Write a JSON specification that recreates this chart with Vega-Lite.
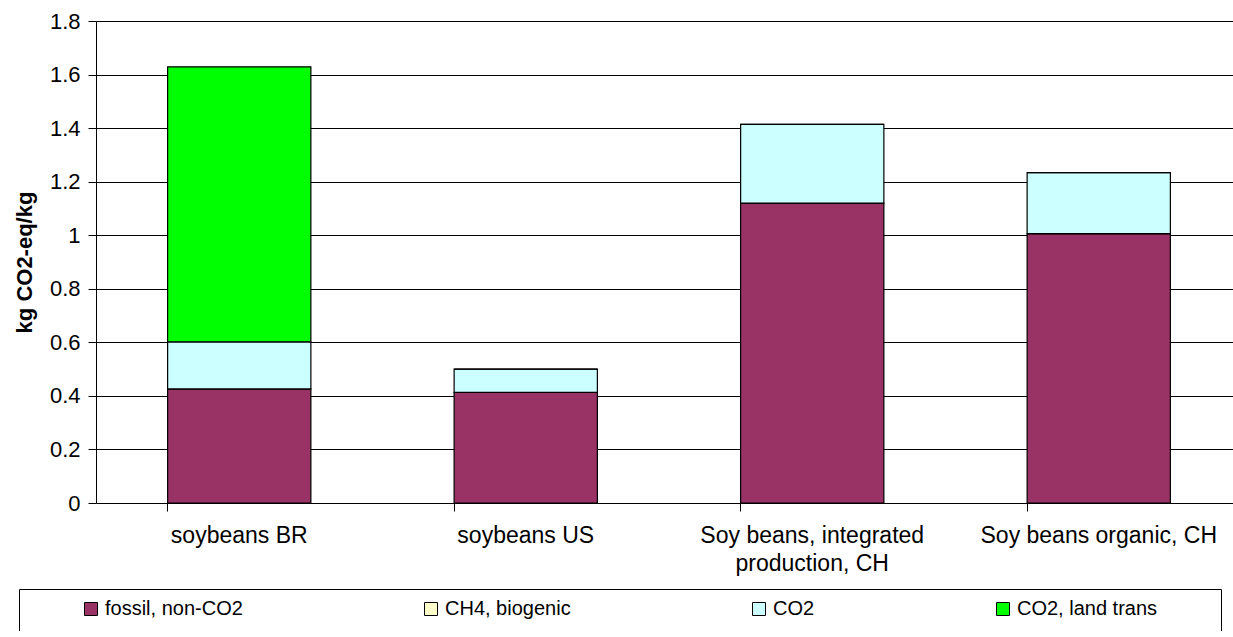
{
  "$schema": "https://vega.github.io/schema/vega-lite/v6.json",
  "padding": {"left": 13, "top": 10, "right": 0, "bottom": 0},
  "background": "white",
  "datasets": {
    "emissions": [
      {"product": "soybeans BR", "series": "fossil, non-CO2", "value": 0.426},
      {"product": "soybeans BR", "series": "CH4, biogenic", "value": 0.0},
      {"product": "soybeans BR", "series": "CO2", "value": 0.176},
      {"product": "soybeans BR", "series": "CO2, land trans", "value": 1.027},
      {"product": "soybeans US", "series": "fossil, non-CO2", "value": 0.413},
      {"product": "soybeans US", "series": "CH4, biogenic", "value": 0.0},
      {"product": "soybeans US", "series": "CO2", "value": 0.087},
      {"product": "soybeans US", "series": "CO2, land trans", "value": 0.0},
      {"product": "Soy beans, integrated production, CH", "series": "fossil, non-CO2", "value": 1.12},
      {"product": "Soy beans, integrated production, CH", "series": "CH4, biogenic", "value": 0.0},
      {"product": "Soy beans, integrated production, CH", "series": "CO2", "value": 0.294},
      {"product": "Soy beans, integrated production, CH", "series": "CO2, land trans", "value": 0.0},
      {"product": "Soy beans organic, CH", "series": "fossil, non-CO2", "value": 1.006},
      {"product": "Soy beans organic, CH", "series": "CH4, biogenic", "value": 0.0},
      {"product": "Soy beans organic, CH", "series": "CO2", "value": 0.228},
      {"product": "Soy beans organic, CH", "series": "CO2, land trans", "value": 0.0}
    ],
    "legend": [
      {"series": "fossil, non-CO2"},
      {"series": "CH4, biogenic"},
      {"series": "CO2"},
      {"series": "CO2, land trans"}
    ]
  },
  "config": {
    "font": "Liberation Sans",
    "view": {"stroke": null},
    "axis": {"labelColor": "black", "titleColor": "black", "tickColor": "black", "domainColor": "black", "labelFont": "Liberation Sans", "titleFont": "Liberation Sans"}
  },
  "resolve": {"legend": {"color": "independent"}},
  "spacing": 11,
  "vconcat": [
    {
      "width": 1136,
      "height": 482,
      "data": {"name": "emissions"},
      "transform": [
        {"window": [{"op": "row_number", "as": "stack_rank"}], "groupby": ["product"]}
      ],
      "mark": {"type": "bar", "stroke": "black", "strokeWidth": 1.2},
      "encoding": {
        "x": {
          "field": "product",
          "type": "nominal",
          "sort": null,
          "scale": {"range": [0, 1146], "paddingInner": 0.5, "paddingOuter": 0.25},
          "axis": {
            "title": null,
            "labelAngle": 0,
            "domain": false,
            "grid": false,
            "bandPosition": 0,
            "ticks": true,
            "tickSize": 8,
            "labelFontSize": 23,
            "labelPadding": 13,
            "labelLimit": 400,
            "labelOverlap": false,
            "labelLineHeight": 28,
            "labelBaseline": "top",
            "labelExpr": "datum.value == 'Soy beans, integrated production, CH' ? ['Soy beans, integrated', 'production, CH'] : datum.value"
          }
        },
        "y": {
          "field": "value",
          "type": "quantitative",
          "stack": "zero",
          "scale": {"domain": [0, 1.8], "nice": false},
          "axis": {
            "title": "kg CO2-eq/kg",
            "titleFontSize": 22,
            "titleFontWeight": "bold",
            "titlePadding": 13,
            "values": [0, 0.2, 0.4, 0.6, 0.8, 1, 1.2, 1.4, 1.6, 1.8],
            "format": "~g",
            "labelFontSize": 22,
            "labelPadding": 8,
            "tickSize": 8,
            "grid": true,
            "gridColor": "black",
            "gridWidth": 1,
            "domain": true
          }
        },
        "order": {"field": "stack_rank", "type": "quantitative", "sort": "ascending"},
        "color": {
          "field": "series",
          "type": "nominal",
          "scale": {
            "domain": ["fossil, non-CO2", "CH4, biogenic", "CO2", "CO2, land trans"],
            "range": ["#993366", "#FFFFCC", "#CCFFFF", "#00FF00"]
          },
          "legend": null
        }
      }
    },
    {
      "width": 1125,
      "height": 42,
      "data": {"name": "legend"},
      "mark": {"type": "point", "shape": "square", "filled": true, "opacity": 0},
      "encoding": {
        "x": {
          "datum": 1,
          "type": "quantitative",
          "scale": {"domain": [0, 1], "range": [-77, 1125], "nice": false, "zero": false},
          "axis": {"title": null, "values": [0, 1], "labels": false, "ticks": false, "domain": false, "grid": true, "gridColor": "black", "gridOpacity": 1, "gridWidth": 1}
        },
        "y": {
          "datum": 1,
          "type": "quantitative",
          "scale": {"domain": [0, 1], "nice": false, "zero": false},
          "axis": {"title": null, "values": [0, 1], "labels": false, "ticks": false, "domain": false, "grid": true, "gridColor": "black", "gridOpacity": 1, "gridWidth": 1}
        },
        "color": {
          "field": "series",
          "type": "nominal",
          "scale": {
            "domain": ["fossil, non-CO2", "CH4, biogenic", "CO2", "CO2, land trans"],
            "range": ["#993366", "#FFFFCC", "#CCFFFF", "#00FF00"]
          },
          "legend": {
            "title": null,
            "orient": "none",
            "legendX": -15,
            "legendY": 10,
            "direction": "horizontal",
            "columns": 4,
            "columnPadding": 178,
            "padding": 0,
            "symbolType": "square",
            "symbolSize": 169,
            "symbolOpacity": 1,
            "symbolStrokeColor": "black",
            "symbolStrokeWidth": 1,
            "labelFontSize": 20,
            "labelFont": "Liberation Sans",
            "labelColor": "black",
            "labelOffset": 4,
            "labelLimit": 300
          }
        }
      }
    }
  ]
}
